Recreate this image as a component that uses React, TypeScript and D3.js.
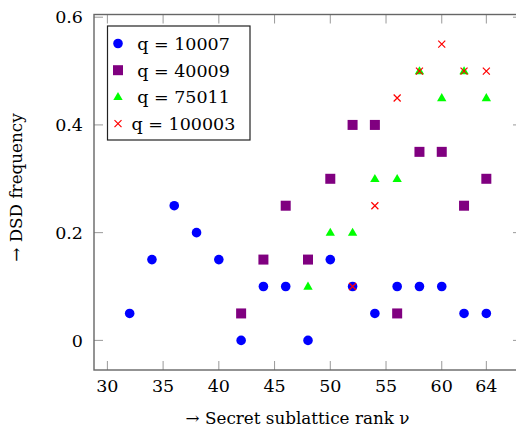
import React from 'react';
import * as d3 from 'd3';

// rank nu on x, frequency on y
const ranks1 = [32, 34, 36, 38, 40, 42, 44, 46, 48, 50, 52, 54, 56, 58, 60, 62, 64];
const freq1 = [0.05, 0.15, 0.25, 0.2, 0.15, 0, 0.1, 0.1, 0, 0.15, 0.1, 0.05, 0.1, 0.1, 0.1, 0.05, 0.05];
const ranks2 = [42, 44, 46, 48, 50, 52, 54, 56, 58, 60, 62, 64];
const freq2 = [0.05, 0.15, 0.25, 0.15, 0.3, 0.4, 0.4, 0.05, 0.35, 0.35, 0.25, 0.3];
const ranks3 = [48, 50, 52, 54, 56, 58, 60, 62, 64];
const freq3 = [0.1, 0.2, 0.2, 0.3, 0.3, 0.5, 0.45, 0.5, 0.45];
const ranks4 = [52, 54, 56, 58, 60, 62, 64];
const freq4 = [0.1, 0.25, 0.45, 0.5, 0.55, 0.5, 0.5];
const legendLabels = ['q = 10007', 'q = 40009', 'q = 75011', 'q = 100003'];
const xTicks = [30, 35, 40, 45, 50, 55, 60, 64];
const yTicks = [0, 0.2, 0.4, 0.6];

const font = '"DejaVu Serif", serif';
const W = 516, H = 428;
const left = 94, right = 522, top = 14.5, bottom = 370;

const Marker = ({ kind, x, y }: { kind: number; x: number; y: number }) => {
	if (kind === 0) return <circle cx={x} cy={y} r={4.8} fill="#0000ff" />;
	if (kind === 1) return <rect x={x - 5} y={y - 5} width={10} height={10} fill="#800080" />;
	if (kind === 2) {
		const tri = d3.symbol().type(d3.symbolTriangle).size(38)();
		return <path d={tri as string} transform={`translate(${x}, ${y + 0.5})`} fill="#00ff00" />;
	}
	return (
		<path d={`M${x - 3.5},${y - 3.5}L${x + 3.5},${y + 3.5}M${x - 3.5},${y + 3.5}L${x + 3.5},${y - 3.5}`}
			stroke="#ff0000" strokeWidth={1.2} />
	);
};

const App = () => {
	const x = d3.scaleLinear().domain([28.8, 67.2]).range([left, right]);
	const y = d3.scaleLinear().domain([-0.055, 0.605]).range([bottom, top]);
	const series = [[ranks1, freq1], [ranks2, freq2], [ranks3, freq3], [ranks4, freq4]];
	const tick = 9;

	return (
		<svg width={W} height={H} style={{ position: 'absolute', left: 0, top: 0 }} fontFamily={font}>
			<rect width={W} height={H} fill="#fff" />
			{xTicks.map((t) => (
				<g key={'x' + t}>
					<line x1={x(t)} x2={x(t)} y1={bottom} y2={bottom - tick} stroke="#999" />
					<line x1={x(t)} x2={x(t)} y1={top} y2={top + tick} stroke="#999" />
					<text x={x(t)} y={bottom + 22} textAnchor="middle" fontSize={17.5}>{t}</text>
				</g>
			))}
			{yTicks.map((t) => (
				<g key={'y' + t}>
					<line x1={left} x2={left + tick} y1={y(t)} y2={y(t)} stroke="#999" />
					<line x1={right} x2={right - tick} y1={y(t)} y2={y(t)} stroke="#999" />
					<text x={left - 11} y={y(t)} dy="0.36em" textAnchor="end" fontSize={17.5}>{t === 0 ? '0' : t}</text>
				</g>
			))}
			<rect x={left} y={top} width={right - left} height={bottom - top} fill="none" stroke="#666" strokeWidth={1.4} />
			{series.map(([xs, ys], k) => (
				<g key={k}>
					{xs.map((v, i) => <Marker key={i} kind={k} x={x(v)} y={y(ys[i])} />)}
				</g>
			))}
			<rect x={107.5} y={26} width={142.5} height={114} fill="#fff" stroke="#222" strokeWidth={1.2} />
			{legendLabels.map((l, i) => (
				<g key={l}>
					<Marker kind={i} x={118} y={43.5 + i * 26.7} />
					<text x={183.5} y={43.5 + i * 26.7} dy="0.36em" textAnchor="middle" fontSize={17.5}>{l}</text>
				</g>
			))}
			<text x={297.5} y={424} textAnchor="middle" fontSize={16.8}>→ Secret sublattice rank ν</text>
			<text transform="translate(22, 187.5) rotate(-90)" textAnchor="middle" fontSize={16.8}>→ DSD frequency</text>
		</svg>
	);
};

export default App;
